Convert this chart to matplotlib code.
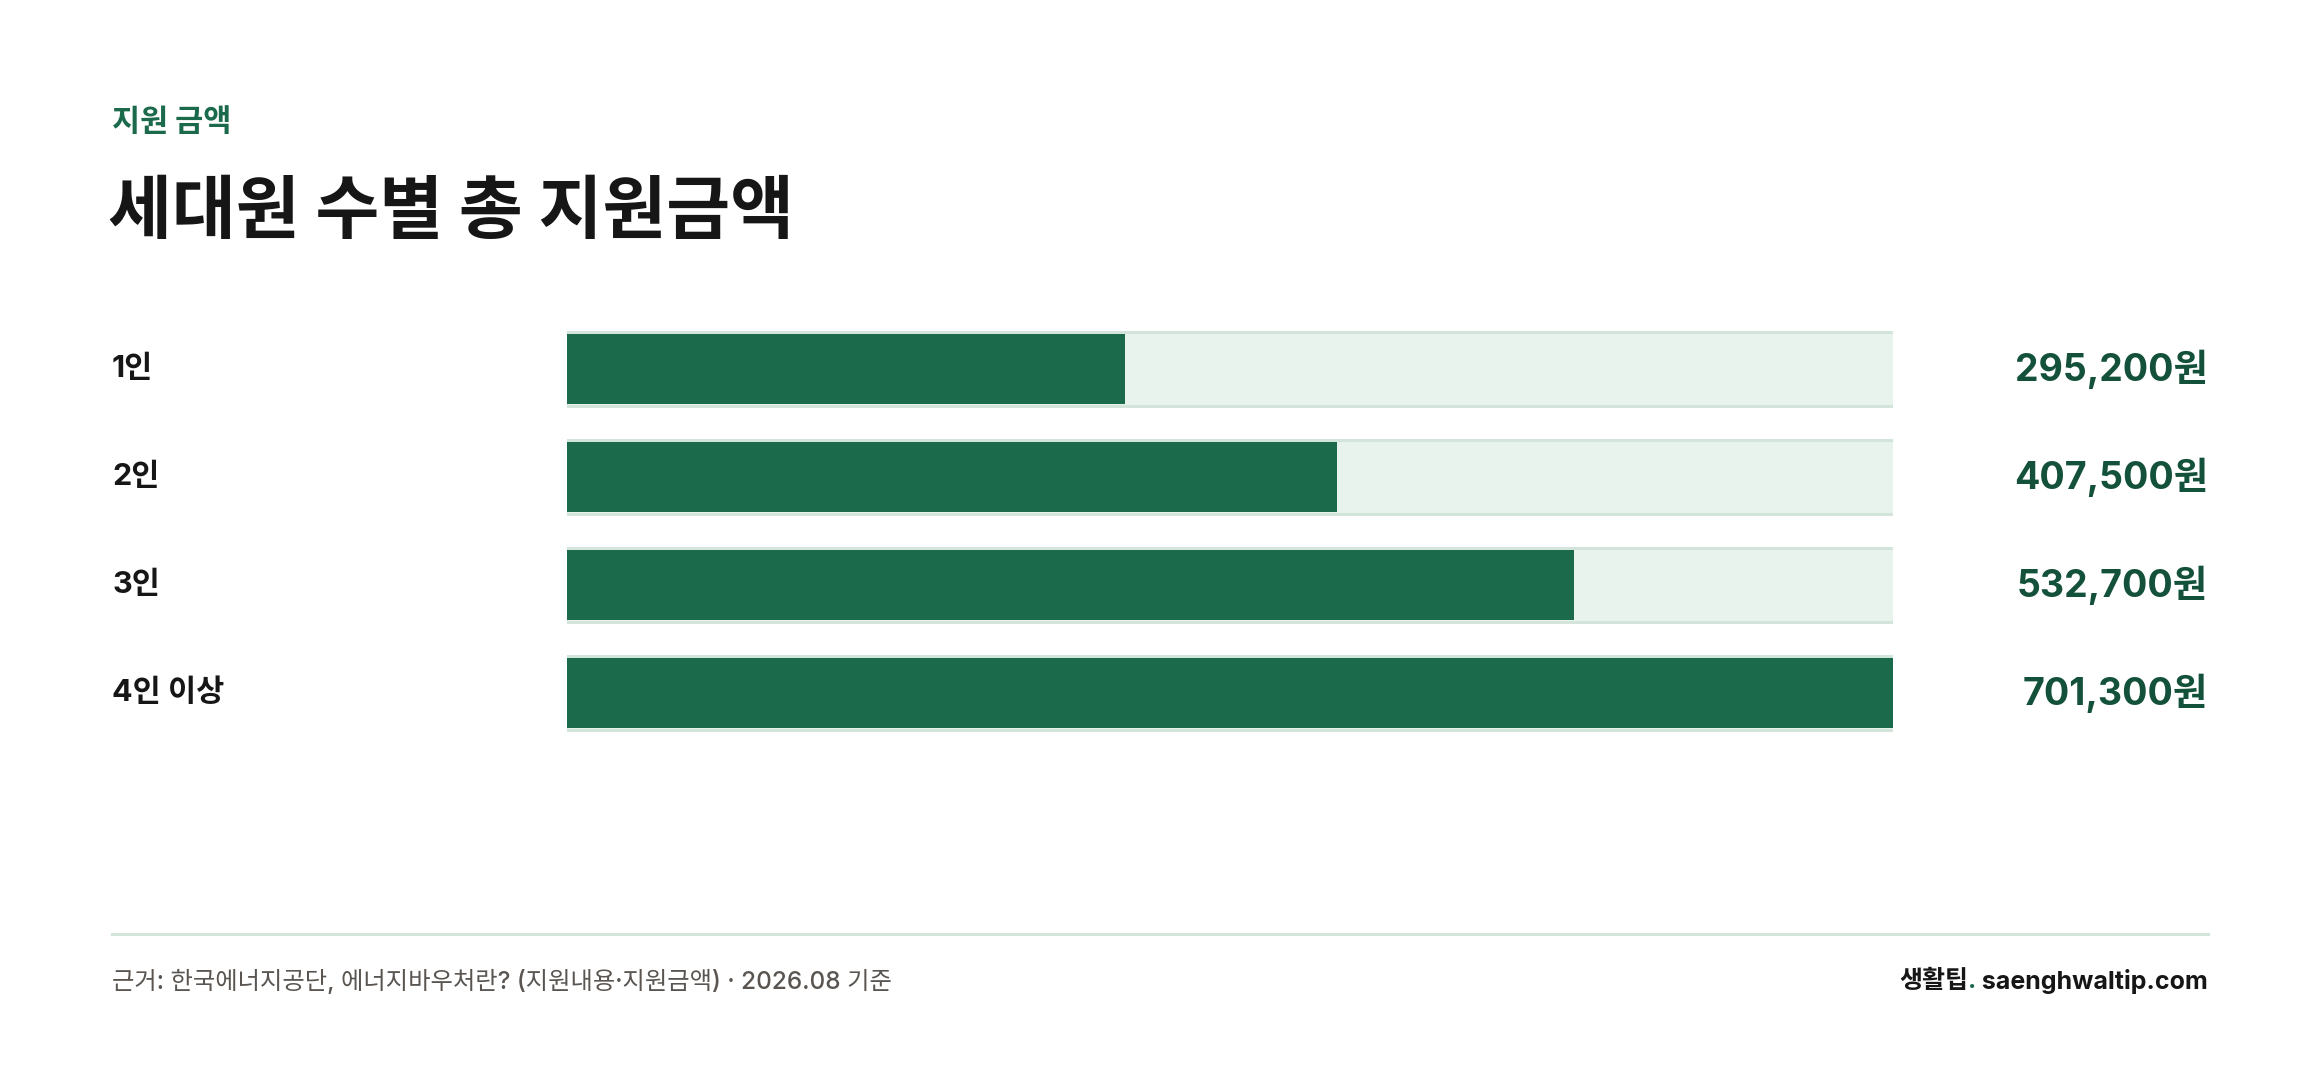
import matplotlib
matplotlib.use("Agg")
import matplotlib.pyplot as plt
import matplotlib.transforms as mtransforms

# 세대원 수별 에너지바우처 총 지원금액
categories = ["1인", "2인", "3인", "4인 이상"]
amounts = [295200, 407500, 532700, 701300]

kicker = "지원 금액"
title = "세대원 수별 총 지원금액"
source = "근거: 한국에너지공단, 에너지바우처란? (지원내용·지원금액) · 2026.08 기준"

GREEN = "#1b6a4b"
DARK_GREEN = "#14513a"
TRACK = "#e8f3ed"
BORDER = "#d3e5db"
INK = "#161616"
GRAY = "#5a5550"

KR = ["Noto Sans CJK KR", "DejaVu Sans"]
MIX = ["Inter", "Noto Sans CJK KR", "DejaVu Sans"]
plt.rcParams["font.family"] = KR

W, H = 2320, 1078
fig = plt.figure(figsize=(W / 100, H / 100), dpi=100)
fig.patch.set_facecolor("white")

# bar area in pixels (inner track)
x0, x1 = 567, 1893
y_top, y_bot = 315, 747
ax = fig.add_axes([x0 / W, 1 - y_bot / H, (x1 - x0) / W, (y_bot - y_top) / H])
ax.set_xlim(0, max(amounts))
ax.set_ylim(len(categories) - 0.5, -0.5)
ax.axis("off")

pos = list(range(len(categories)))
px = max(amounts) / (x1 - x0)  # data units per pixel
pad = 1.5 * px
ax.barh(pos, [max(amounts) + 2 * pad] * len(pos), left=-pad, height=0.676,
        color=TRACK, edgecolor=BORDER, linewidth=2.2, zorder=1)
ax.barh(pos, amounts, height=0.648, color=GREEN, linewidth=0, zorder=2)

trans = mtransforms.blended_transform_factory(fig.transFigure, ax.transData)
for p, cat, val in zip(pos, categories, amounts):
    fig.text(112 / W, p, cat, transform=trans, ha="left", va="center",
             fontsize=22, fontweight="bold", color=INK, family=MIX)
    fig.text(2208 / W, p, f"{val:,}원", transform=trans, ha="right", va="center",
             fontsize=27, fontweight="bold", color=DARK_GREEN, family=MIX)

# header
fig.text(112 / W, 1 - 122 / H, kicker, ha="left", va="center",
         fontsize=22, fontweight="bold", color=GREEN)
fig.text(108 / W, 1 - 213 / H, title, ha="left", va="center",
         fontsize=50, fontweight="black", color=INK)

# footer
fig.add_artist(plt.Line2D([112 / W, 2208 / W], [1 - 933.5 / H] * 2,
                          color=BORDER, linewidth=2.2))
fig.text(112 / W, 1 - 981 / H, source, ha="left", va="center",
         fontsize=17.5, fontweight="medium", color=GRAY, family=MIX)
brand = fig.text(2208 / W, 1 - 981 / H, " saenghwaltip.com", ha="right", va="center",
                 fontsize=18, fontweight="bold", color=INK, family=MIX)
fig.canvas.draw()
bb = brand.get_window_extent()
dot = fig.text(bb.x0 / W, 1 - 981 / H, ".", ha="right", va="center",
               fontsize=18, fontweight="bold", color=GREEN, family=MIX)
fig.canvas.draw()
db = dot.get_window_extent()
fig.text(db.x0 / W, 1 - 981 / H, "생활팁", ha="right", va="center",
         fontsize=18, fontweight="bold", color=INK, family=KR)

fig.savefig("out.png", dpi=100, facecolor="white")
